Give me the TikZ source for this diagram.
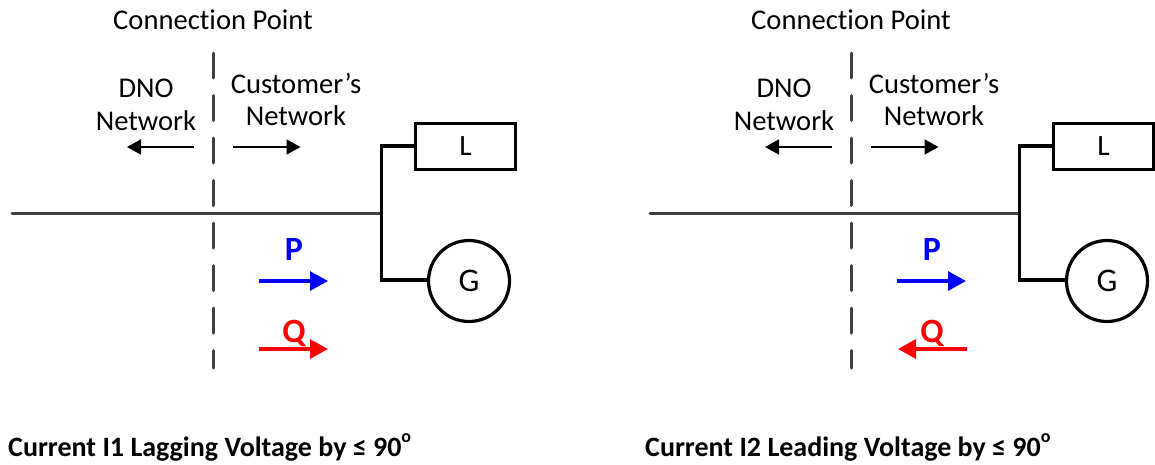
\documentclass[tikz,border=0pt]{standalone}
\usepackage{fontspec}
\setmainfont[Ligatures=CommonOff]{Carlito}
\usetikzlibrary{arrows.meta}
\definecolor{lineg}{HTML}{404040}
\definecolor{pblue}{HTML}{0000FF}
\definecolor{qred}{HTML}{FF0000}
\tikzset{
  x=1pt,y=-1pt,
  lab/.style={font=\fontsize{28.6}{28.6}\selectfont,inner sep=0pt,text=black,anchor=base},
  capt/.style={font=\fontsize{28}{28}\selectfont\bfseries,inner sep=0pt,anchor=base west},
  pq/.style={font=\fontsize{34}{34}\selectfont\bfseries,inner sep=0pt,anchor=base},
  cpline/.style={draw=lineg,line width=3pt,line cap=round,dash pattern=on 25pt off 17.5pt},
  mainline/.style={draw=lineg,line width=3pt,line cap=round},
  bus/.style={draw=black,line width=3.2pt},
  loadbox/.style={draw=black,line width=3.2pt,minimum width=100pt,minimum height=46pt,inner sep=0pt,font=\fontsize{29.5}{29.5}\selectfont},
  gen/.style={draw=black,line width=3.2pt,circle,minimum size=81pt,inner sep=0pt,font=\fontsize{33}{33}\selectfont},
  thinarr/.style={draw=black,line width=1.6pt,-{Triangle[length=14pt,width=15pt]}},
  powarr/.style={line width=3.2pt,-{Triangle[length=18pt,width=19pt]}},
}
\newcommand{\diagpanel}[3]{%
  \begin{scope}[xshift=#1pt,name prefix=#2-]
    \node[lab] (cp) at (213,29) {Connection Point};
    \node[lab] (dno) at (146,97) {DNO};
    \node[lab] (dnonet) at (146,130) {Network};
    \node[lab] (cust) at (296,93) {Customer’s};
    \node[lab] (custnet) at (296,125) {Network};
    \coordinate (cptop) at (213.5,53);
    \coordinate (cpbot) at (213.5,368);
    \draw[cpline] (cptop) -- (cpbot);
    \coordinate (feed) at (12,213);
    \coordinate (busmid) at (381.5,213);
    \coordinate (bustop) at (381.5,146);
    \coordinate (busbot) at (381.5,280);
    \node[loadbox] (load) at (465.5,146.5) {L};
    \node[gen] (gen) at (469,281) {G};
    \draw[mainline] (feed) -- (busmid);
    \draw[bus] (load.west |- bustop) -- (bustop) -- (busbot) -- (gen.west |- busbot);
    \coordinate (la) at (194,147); \coordinate (lb) at (127,147);
    \coordinate (ra) at (233,147); \coordinate (rb) at (300.5,147);
    \draw[thinarr] (la) -- (lb);
    \draw[thinarr] (ra) -- (rb);
    \node[pq,text=pblue] (p) at (294,260) {P};
    \node[pq,text=qred] (q) at (294,342) {Q};
    \coordinate (pa) at (259,281); \coordinate (pb) at (328,281);
    \draw[powarr,draw=pblue,fill=pblue] (pa) -- (pb);
    #3
  \end{scope}%
}
\begin{document}
\begin{tikzpicture}
  \useasboundingbox (0,0) rectangle (1155,464);
  \diagpanel{0}{a}{%
    \coordinate (qa) at (259,349); \coordinate (qb) at (328,349);
    \draw[powarr,draw=qred,fill=qred] (qa) -- (qb);
    \node[capt] (cap) at (8,456) {Current I1 Lagging Voltage by ≤ 90\raisebox{0.5em}{\fontsize{18}{18}\selectfont o}};
  }
  \diagpanel{638}{b}{%
    \coordinate (qa) at (329,349); \coordinate (qb) at (260,349);
    \draw[powarr,draw=qred,fill=qred] (qa) -- (qb);
    \node[capt] (cap) at (7,456) {Current I2 Leading Voltage by ≤ 90\raisebox{0.5em}{\fontsize{18}{18}\selectfont o}};
  }
\end{tikzpicture}
\end{document}
